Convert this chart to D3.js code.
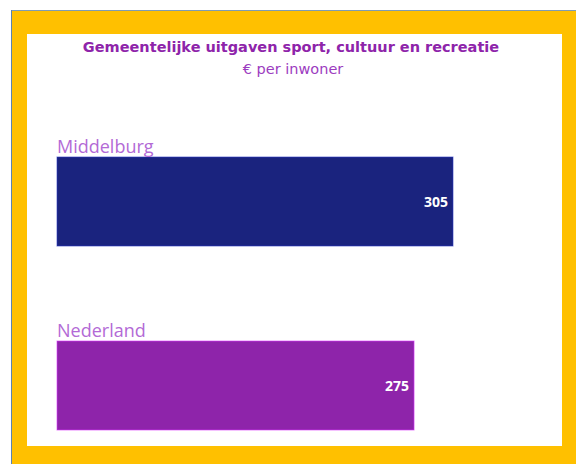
<!DOCTYPE html>
<html><head><meta charset="utf-8">
<script src="https://cdn.jsdelivr.net/npm/d3@7"></script>
<style>body{margin:0;background:#fff;}svg{display:block;}</style>
</head><body>
<svg id="c" width="576" height="464"></svg>
<script>
const categories = ["Middelburg", "Nederland"];
const values = [305, 275];
const barColors = ["#1a237e", "#8e24aa"];
const title = "Gemeentelijke uitgaven sport, cultuur en recreatie";
const subtitle = "€ per inwoner";

const svg = d3.select("#c");
// frame
svg.append("rect").attr("x", 11).attr("y", 10).attr("width", 565).attr("height", 454).attr("fill", "#ffc000");
svg.append("line").attr("x1", 11).attr("x2", 576).attr("y1", 10.5).attr("y2", 10.5).attr("stroke", "#7f9cb3").attr("stroke-width", 1);
svg.append("line").attr("x1", 11.5).attr("x2", 11.5).attr("y1", 10).attr("y2", 464).attr("stroke", "#5b82b0").attr("stroke-width", 1);
svg.append("rect").attr("x", 27).attr("y", 34).attr("width", 535).attr("height", 412).attr("fill", "#fff");

svg.append("text").attr("x", 291).attr("y", 52).attr("text-anchor", "middle")
  .attr("font-family", "DejaVu Sans").attr("font-weight", "bold").attr("font-size", 14.5)
  .attr("fill", "#8e24aa").text(title);
svg.append("text").attr("x", 293).attr("y", 74).attr("text-anchor", "middle")
  .attr("font-family", "DejaVu Sans").attr("font-size", 14.5)
  .attr("fill", "#9c3cc0").text(subtitle);

const x = d3.scaleLinear().domain([0, 305]).range([57, 453]);
const y = d3.scaleBand().domain(categories).range([138, 506]);

const data = categories.map((c, i) => ({c, v: values[i], col: barColors[i]}));
const g = svg.append("g");
data.forEach(d => {
  const top = y(d.c) + 19;
  const h = 89;
  g.append("rect").attr("x", x(0)).attr("y", top).attr("width", x(d.v) - x(0)).attr("height", h)
    .attr("fill", d.col).attr("stroke", d3.color(d.col).brighter(1.2)).attr("stroke-width", 1).attr("stroke-opacity", 0.6);
  g.append("text").attr("x", x(0)).attr("y", top - 4).attr("font-family", "Open Sans").attr("font-size", 18)
    .attr("fill", "#b36ad6").text(d.c);
  g.append("text").attr("x", x(d.v) - 5).attr("y", top + h / 2 + 5).attr("text-anchor", "end")
    .attr("font-family", "Open Sans").attr("font-weight", "bold").attr("font-size", 14)
    .attr("fill", "#fff").text(d.v);
});
</script>
</body></html>
